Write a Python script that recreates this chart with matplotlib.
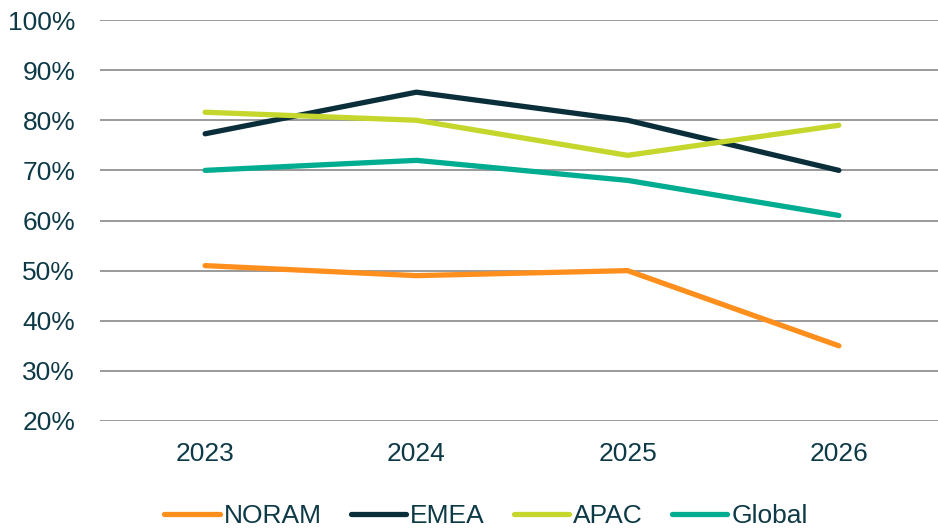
import matplotlib
matplotlib.use('Agg')
import matplotlib.pyplot as plt
from matplotlib.ticker import FuncFormatter

plt.rcParams['font.family'] = ['Liberation Sans', 'DejaVu Sans']

years = ['2023', '2024', '2025', '2026']
noram = [51, 49, 50, 35]
emea = [77.3, 85.6, 80, 70]
apac = [81.6, 80, 73, 79]
glob = [70, 72, 68, 61]

series = [('NORAM', noram, '#FF8F1C'),
          ('EMEA', emea, '#0B2F3A'),
          ('APAC', apac, '#C5D62C'),
          ('Global', glob, '#00AD91')]

txt = '#0E3A47'

fig = plt.figure(figsize=(9.38, 5.28), dpi=100)
ax = fig.add_axes([99.5 / 938, 1 - 421 / 528, 845 / 938, 401 / 528])

x = range(len(years))
for name, vals, col in series:
    ax.plot(x, vals, color=col, lw=3.8, solid_capstyle='round',
            solid_joinstyle='round', label=name)

ax.set_xlim(-0.5, 3.5)
ax.set_ylim(20, 100)
ax.set_yticks(range(20, 101, 10))
ax.yaxis.set_major_formatter(FuncFormatter(lambda v, p: '%d%%' % v))
ax.set_xticks(list(x))
ax.set_xticklabels(years)
ax.grid(axis='y', color='#898989', lw=1.2)
ax.set_axisbelow(True)
for s in ax.spines.values():
    s.set_visible(False)
ax.tick_params(axis='both', length=0, labelsize=19, labelcolor=txt)
ax.tick_params(axis='y', pad=17.5)
ax.tick_params(axis='x', pad=15)

fig.legend(loc='center', bbox_to_anchor=(486 / 938, 1 - 516 / 528), ncol=4,
           frameon=False, fontsize=19, labelcolor=txt, handlelength=2.1,
           handletextpad=0.15, columnspacing=1.1, borderaxespad=0)

fig.savefig('out.png', dpi=100)
